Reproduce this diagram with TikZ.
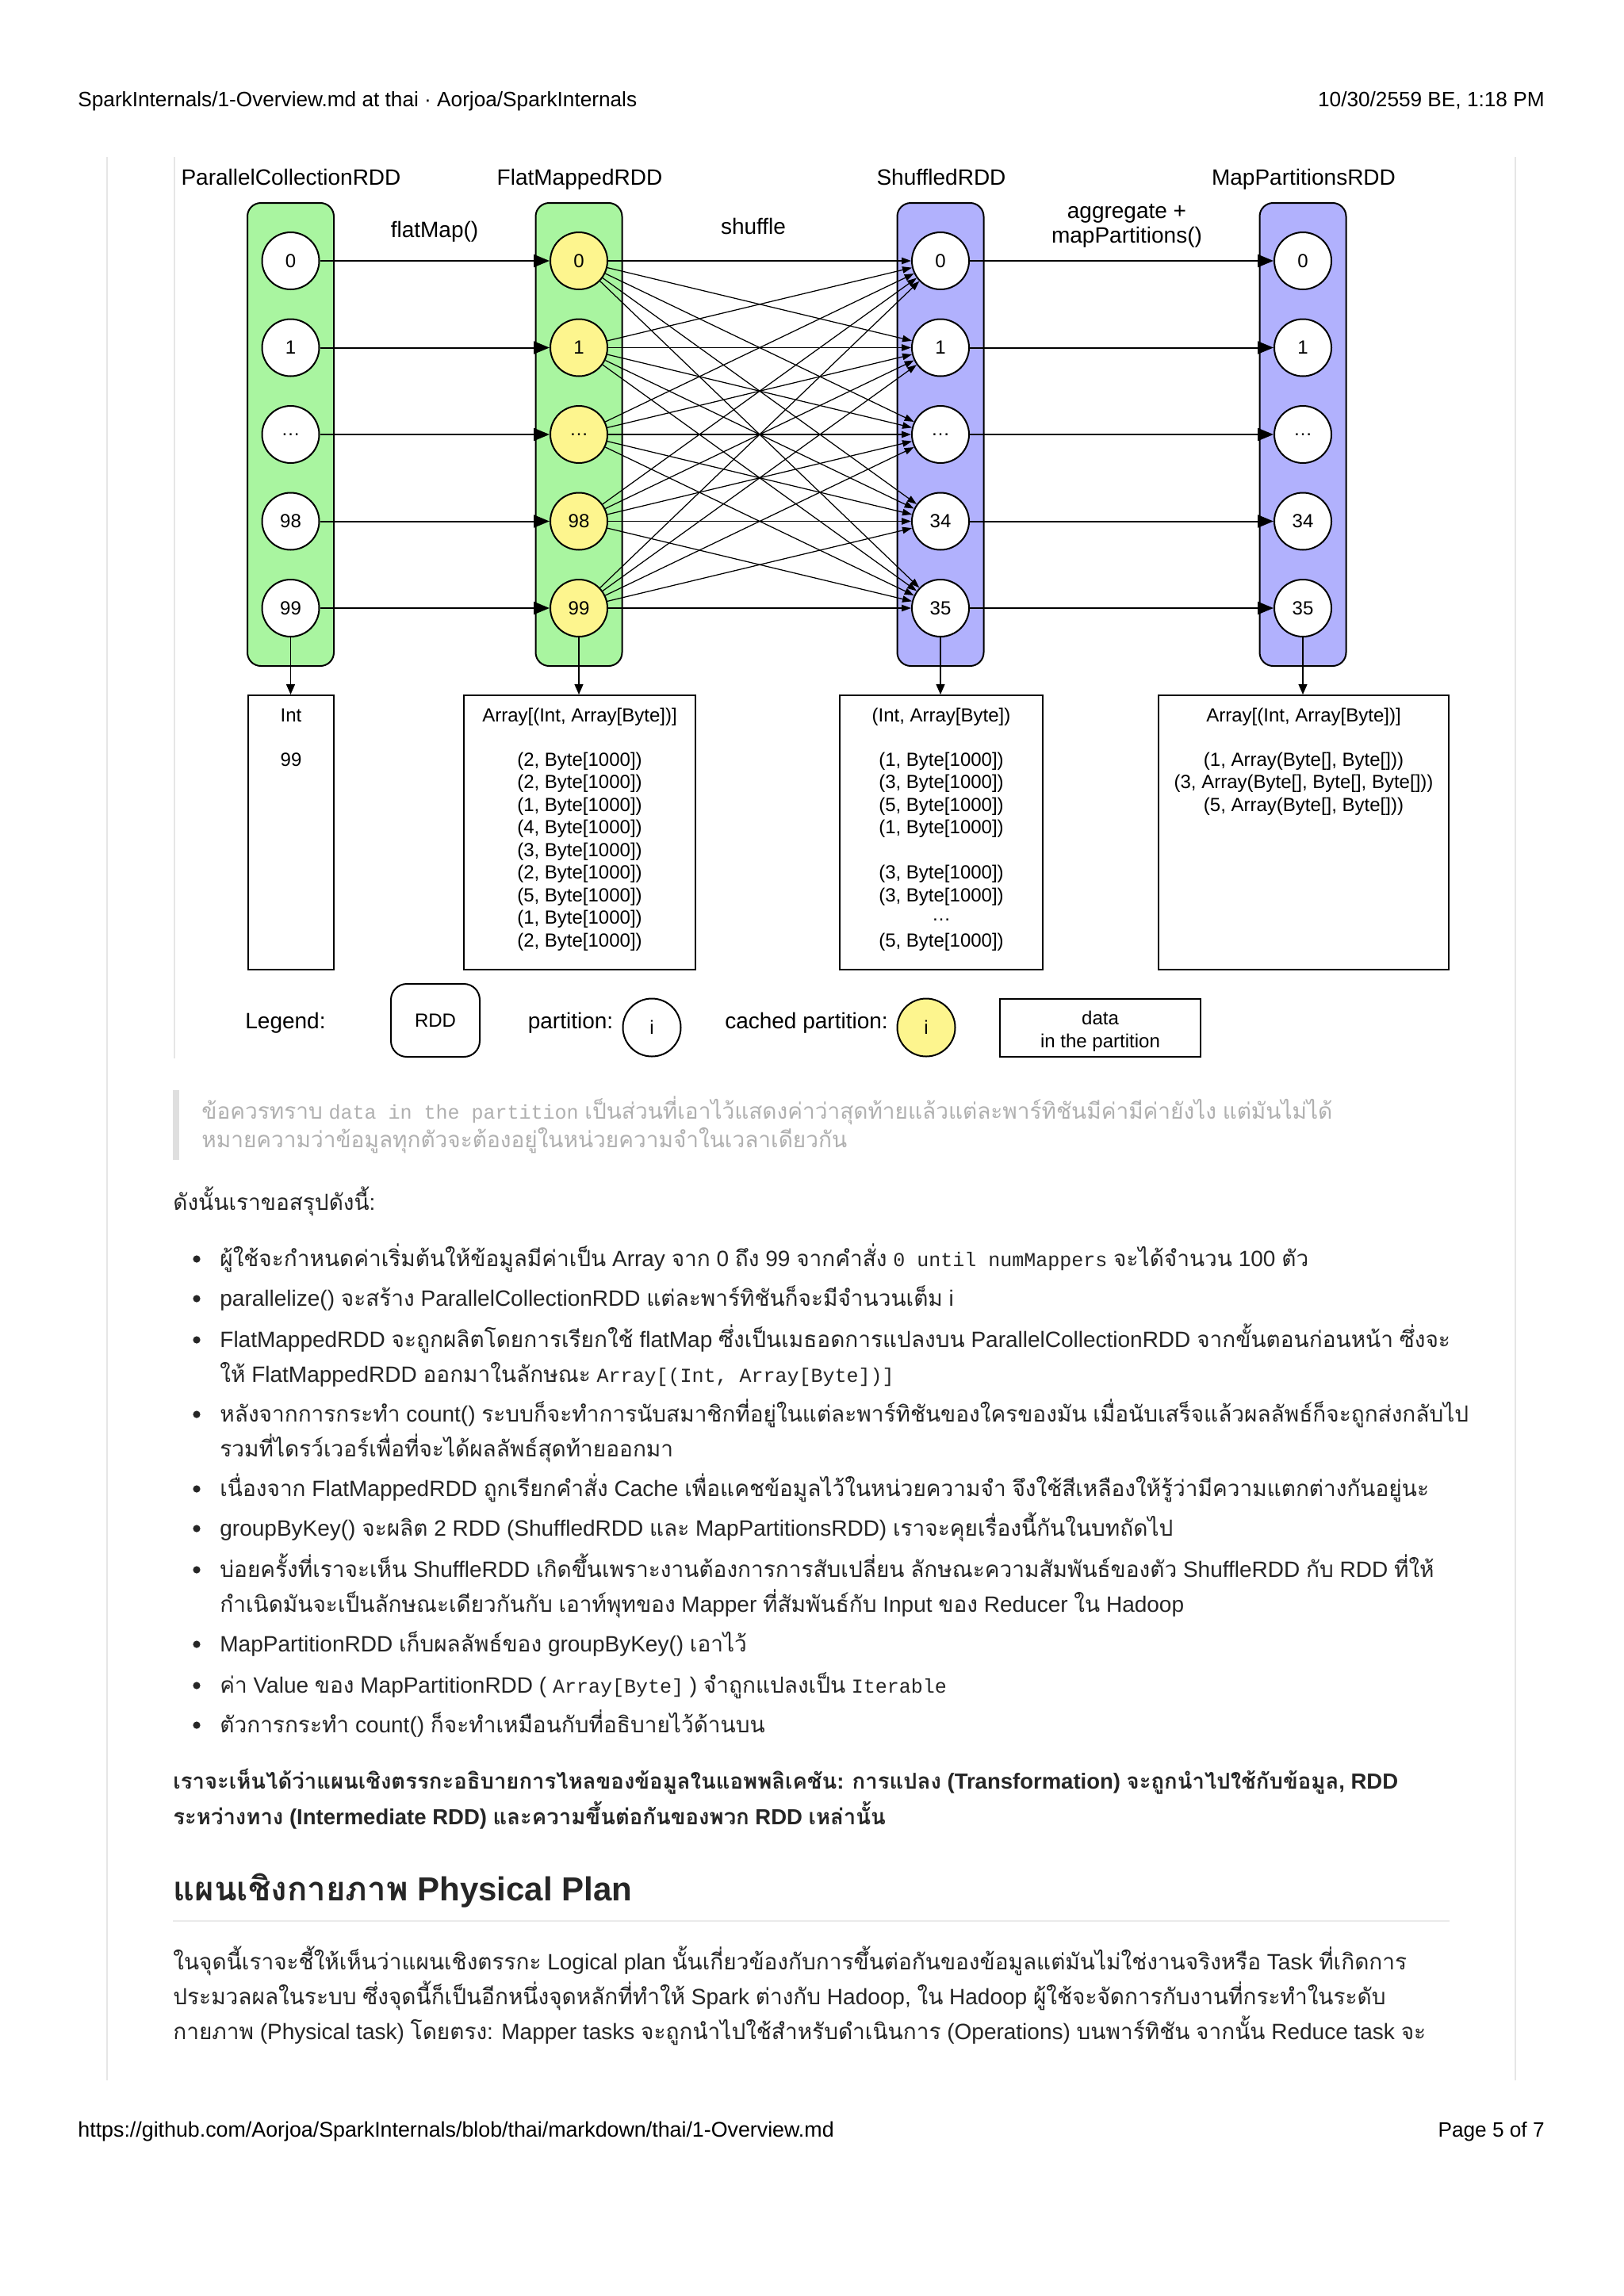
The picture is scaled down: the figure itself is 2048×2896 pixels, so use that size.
\documentclass[tikz,border=0pt]{standalone}
\usepackage{fontspec}
\setmainfont{Liberation Sans}
\setmonofont{Liberation Mono}
\newfontfamily\thaifont[Script=Thai]{Loma}
\usetikzlibrary{arrows.meta}
\XeTeXinterchartokenstate=1
\newXeTeXintercharclass\thaicls
\makeatletter
\@tempcnta="0E00
\loop
  \XeTeXcharclass\@tempcnta=\thaicls
  \ifnum\@tempcnta<"0E7F \advance\@tempcnta by 1 \repeat
\makeatother
\newcommand\thaicur{\thaifont}
\newcommand\latincur{\rmfamily}
\XeTeXinterchartoks 0 \thaicls = {\thaicur}
\XeTeXinterchartoks 4095 \thaicls = {\thaicur}
\XeTeXinterchartoks \thaicls 0 = {\latincur}
\XeTeXinterchartoks \thaicls 4095 = {\latincur}
\definecolor{rddgreen}{HTML}{A9F5A0}
\definecolor{rddblue}{HTML}{B1B1FD}
\definecolor{cachedyellow}{HTML}{FDF58E}
\definecolor{bodytxt}{HTML}{262626}
\definecolor{quotetxt}{HTML}{B0B0B0}
\definecolor{quotebar}{HTML}{DFDFDF}
\definecolor{pageline}{HTML}{E6E6E6}
\definecolor{hrcol}{HTML}{EAEAEA}
\tikzset{
  rdd/.style={draw, line width=1pt, rounded corners=8.5pt, minimum width=54.5pt, minimum height=292pt, inner sep=0pt},
  part/.style={circle, draw, line width=1pt, minimum size=36pt, inner sep=0pt, fill=white, font=\fontsize{12}{14}\selectfont},
  cpart/.style={part, fill=cachedyellow},
  ttl/.style={inner sep=0pt, font=\fontsize{14}{17}\selectfont},
  ttlb/.style={ttl, anchor=base},
  marrow/.style={-{Triangle[length=10pt,width=8pt]}, line width=1pt},
  shuf/.style={-{Triangle[length=6pt,width=4.2pt]}, line width=0.62pt, draw=black},
  varrow/.style={-{Triangle[length=6.5pt,width=5.5pt]}, line width=0.7pt},
  databox/.style={draw, line width=1pt, minimum height=173pt, inner sep=0pt},
  dtxt/.style={anchor=base, inner sep=0pt, font=\fontsize{12}{14}\selectfont},
  hdr/.style={inner sep=0pt, font=\fontsize{13.1}{15}\selectfont, text=black},
  body/.style={anchor=base west, inner sep=0pt, font=\fontsize{14}{17}\selectfont, text=bodytxt},
  quote/.style={body, text=quotetxt},
  bul/.style={circle, fill=bodytxt, minimum size=4.6pt, inner sep=0pt},
  pline/.style={draw=pageline, line width=1pt},
}
\newcommand\code[1]{{\ttfamily\fontsize{12.5}{15}\selectfont #1}}
\begin{document}
\begin{tikzpicture}[x=0.5pt,y=-0.5pt]
\useasboundingbox[fill=white] (0,0) rectangle (2048,2896);
% page frame lines
\draw[pline] (135,198) -- (135,2624);
\draw[pline] (1911,198) -- (1911,2624);
\draw[pline] (220,198) -- (220,1335);
% header / footer
\node[hdr, anchor=base west] (hdl) at (98,134) {SparkInternals/1-Overview.md at thai · Aorjoa/SparkInternals};
\node[hdr, anchor=base east] (hdr) at (1948,134) {10/30/2559 BE, 1:18 PM};
\node[hdr, anchor=base west, font=\fontsize{13.4}{15}\selectfont] (ftl) at (98,2695) {https://github.com/Aorjoa/SparkInternals/blob/thai/markdown/thai/1-Overview.md};
\node[hdr, anchor=base east] (ftr) at (1948,2695) {Page 5 of 7};
% ---------------- diagram ----------------
\node[ttlb] (tpc) at (367,233) {ParallelCollectionRDD};
\node[ttlb] (tfm) at (731,233) {FlatMappedRDD};
\node[ttlb] (tsh) at (1187,233) {ShuffledRDD};
\node[ttlb] (tmp) at (1644,233) {MapPartitionsRDD};
\node[ttl] (lflat) at (548,292) {flatMap()};
\node[ttlb] (lshuf) at (950,295) {shuffle};
\node[ttl, align=center, font=\fontsize{14}{15.5}\selectfont] (lagg) at (1421,285) {aggregate +\\mapPartitions()};
\node[rdd, fill=rddgreen] (rpc) at (366.5,548) {};
\node[rdd, fill=rddgreen] (rfm) at (730,548) {};
\node[rdd, fill=rddblue] (rsh) at (1186,548) {};
\node[rdd, fill=rddblue] (rmp) at (1643,548) {};
\foreach \lab/\y [count=\i] in {0/329,1/438.5,…/548,98/657.5,99/767}{
  \node[part] (p\i) at (366.5,\y) {\lab};
  \node[cpart] (f\i) at (730,\y) {\lab};
}
\foreach \lab/\y [count=\i] in {0/329,1/438.5,…/548,34/657.5,35/767}{
  \node[part] (s\i) at (1186,\y) {\lab};
  \node[part] (m\i) at (1643,\y) {\lab};
}
\foreach \i in {1,...,5}{
  \draw[marrow] (p\i) -- (f\i);
  \draw[marrow] (s\i) -- (m\i);
  \foreach \j in {1,...,5}{
    \draw[shuf] (f\i) -- (s\j);
  }
}
% data boxes
\node[databox, minimum width=54pt] (d1) at (367,1050) {};
\node[databox, minimum width=146pt] (d2) at (731,1050) {};
\node[databox, minimum width=128pt] (d3) at (1187,1050) {};
\node[databox, minimum width=183pt] (d4) at (1644,1050) {};
\draw[varrow] (p5.south) -- (p5.south |- d1.north);
\draw[varrow] (f5.south) -- (f5.south |- d2.north);
\draw[varrow] (s5.south) -- (s5.south |- d3.north);
\draw[varrow] (m5.south) -- (m5.south |- d4.north);
\node[dtxt] (d1h) at (367,910) {Int};
\node[dtxt] (d1a) at (367,966) {99};
\node[dtxt] (d2h) at (731,910) {Array[(Int, Array[Byte])]};
\foreach \t [count=\k from 0] in {{(2, Byte[1000])},{(2, Byte[1000])},{(1, Byte[1000])},{(4, Byte[1000])},{(3, Byte[1000])},{(2, Byte[1000])},{(5, Byte[1000])},{(1, Byte[1000])},{(2, Byte[1000])}}{
  \node[dtxt] (d2i\k) at (731,966+28.5*\k) {\t};
}
\node[dtxt] (d3h) at (1187,910) {(Int, Array[Byte])};
\foreach \t/\k in {{(1, Byte[1000])}/0,{(3, Byte[1000])}/1,{(5, Byte[1000])}/2,{(1, Byte[1000])}/3,{(3, Byte[1000])}/5,{(3, Byte[1000])}/6,{…}/6.85,{(5, Byte[1000])}/8}{
  \node[dtxt] (d3i\k) at (1187,966+28.5*\k) {\t};
}
\node[dtxt] (d4h) at (1644,910) {Array[(Int, Array[Byte])]};
\node[dtxt] (d4a) at (1644,966) {(1, Array(Byte[], Byte[]))};
\node[dtxt] (d4b) at (1644,994.5) {(3, Array(Byte[], Byte[], Byte[]))};
\node[dtxt] (d4c) at (1644,1023) {(5, Array(Byte[], Byte[]))};
% legend
\node[ttl] (lg) at (360,1290) {Legend:};
\node[draw, line width=1pt, rounded corners=10pt, minimum width=56pt, minimum height=46pt, inner sep=0pt, font=\fontsize{12}{14}\selectfont] (lgr) at (549,1287) {RDD};
\node[ttl] (lgp) at (719.5,1290) {partition:};
\node[part, minimum size=36.5pt] (lgc) at (822,1296) {i};
\node[ttl] (lgcp) at (1017,1290) {cached partition:};
\node[cpart, minimum size=36.5pt] (lgy) at (1168,1296) {i};
\node[draw, line width=1pt, minimum width=126.5pt, minimum height=36.5pt, inner sep=0pt, font=\fontsize{12}{14}\selectfont] (lgd) at (1387.5,1296) {};
\node[inner sep=0pt, align=center, font=\fontsize{12}{14.3}\selectfont] (lgdt) at (1387.5,1301) {data\\in the partition};
% ---------------- text ----------------
\fill[quotebar] (218,1375) rectangle (226,1463);
\node[quote] (q1) at (254,1411) {ข้อควรทราบ \code{data in the partition} เป็นส่วนที่เอาไว้แสดงค่าว่าสุดท้ายแล้วแต่ละพาร์ทิชันมีค่ามีค่ายังไง แต่มันไม่ได้};
\node[quote] (q2) at (254,1447) {หมายความว่าข้อมูลทุกตัวจะต้องอยู่ในหน่วยความจำในเวลาเดียวกัน};
\node[body] (s0) at (218,1526) {ดังนั้นเราขอสรุปดังนี้:};
\foreach \y [count=\i] in {1597,1647,1699,1793,1887,1937,1989,2083,2135,2185}{
  \node[bul] (b\i) at (248,\y-9) {};
}
\node[body] (l1) at (277,1597) {ผู้ใช้จะกำหนดค่าเริ่มต้นให้ข้อมูลมีค่าเป็น Array จาก 0 ถึง 99 จากคำสั่ง \code{0 until numMappers} จะได้จำนวน 100 ตัว};
\node[body] (l2) at (277,1647) {parallelize() จะสร้าง ParallelCollectionRDD แต่ละพาร์ทิชันก็จะมีจำนวนเต็ม i};
\node[body] (l3) at (277,1699) {FlatMappedRDD จะถูกผลิตโดยการเรียกใช้ flatMap ซึ่งเป็นเมธอดการแปลงบน ParallelCollectionRDD จากขั้นตอนก่อนหน้า ซึ่งจะ};
\node[body] (l3b) at (277,1743) {ให้ FlatMappedRDD ออกมาในลักษณะ \code{Array[(Int, Array[Byte])]}};
\node[body] (l4) at (277,1793) {หลังจากการกระทำ count() ระบบก็จะทำการนับสมาชิกที่อยู่ในแต่ละพาร์ทิชันของใครของมัน เมื่อนับเสร็จแล้วผลลัพธ์ก็จะถูกส่งกลับไป};
\node[body] (l4b) at (277,1837) {รวมที่ไดรว์เวอร์เพื่อที่จะได้ผลลัพธ์สุดท้ายออกมา};
\node[body] (l5) at (277,1887) {เนื่องจาก FlatMappedRDD ถูกเรียกคำสั่ง Cache เพื่อแคชข้อมูลไว้ในหน่วยความจำ จึงใช้สีเหลืองให้รู้ว่ามีความแตกต่างกันอยู่นะ};
\node[body] (l6) at (277,1937) {groupByKey() จะผลิต 2 RDD (ShuffledRDD และ MapPartitionsRDD) เราจะคุยเรื่องนี้กันในบทถัดไป};
\node[body] (l7) at (277,1989) {บ่อยครั้งที่เราจะเห็น ShuffleRDD เกิดขึ้นเพราะงานต้องการการสับเปลี่ยน ลักษณะความสัมพันธ์ของตัว ShuffleRDD กับ RDD ที่ให้};
\node[body] (l7b) at (277,2033) {กำเนิดมันจะเป็นลักษณะเดียวกันกับ เอาท์พุทของ Mapper ที่สัมพันธ์กับ Input ของ Reducer ใน Hadoop};
\node[body] (l8) at (277,2083) {MapPartitionRDD เก็บผลลัพธ์ของ groupByKey() เอาไว้};
\node[body] (l9) at (277,2135) {ค่า Value ของ MapPartitionRDD ( \code{Array[Byte]} ) จำถูกแปลงเป็น \code{Iterable}};
\node[body] (l10) at (277,2185) {ตัวการกระทำ count() ก็จะทำเหมือนกับที่อธิบายไว้ด้านบน};
\node[body, font=\fontsize{13.75}{17}\selectfont\bfseries] (bp1) at (218,2256) {เราจะเห็นได้ว่าแผนเชิงตรรกะอธิบายการไหลของข้อมูลในแอพพลิเคชัน: การแปลง (Transformation) จะถูกนำไปใช้กับข้อมูล, RDD};
\node[body, font=\fontsize{13.75}{17}\selectfont\bfseries] (bp2) at (218,2301) {ระหว่างทาง (Intermediate RDD) และความขึ้นต่อกันของพวก RDD เหล่านั้น};
\node[body, font=\fontsize{21}{25}\selectfont\bfseries] (hd) at (218,2397) {แผนเชิงกายภาพ Physical Plan};
\draw[draw=hrcol, line width=1.2pt] (218,2423) -- (1828,2423);
\node[body] (p1) at (218,2484) {ในจุดนี้เราจะชี้ให้เห็นว่าแผนเชิงตรรกะ Logical plan นั้นเกี่ยวข้องกับการขึ้นต่อกันของข้อมูลแต่มันไม่ใช่งานจริงหรือ Task ที่เกิดการ};
\node[body] (p2) at (218,2528) {ประมวลผลในระบบ ซึ่งจุดนี้ก็เป็นอีกหนึ่งจุดหลักที่ทำให้ Spark ต่างกับ Hadoop, ใน Hadoop ผู้ใช้จะจัดการกับงานที่กระทำในระดับ};
\node[body] (p3) at (218,2572) {กายภาพ (Physical task) โดยตรง: Mapper tasks จะถูกนำไปใช้สำหรับดำเนินการ (Operations) บนพาร์ทิชัน จากนั้น Reduce task จะ};
\end{tikzpicture}
\end{document}
